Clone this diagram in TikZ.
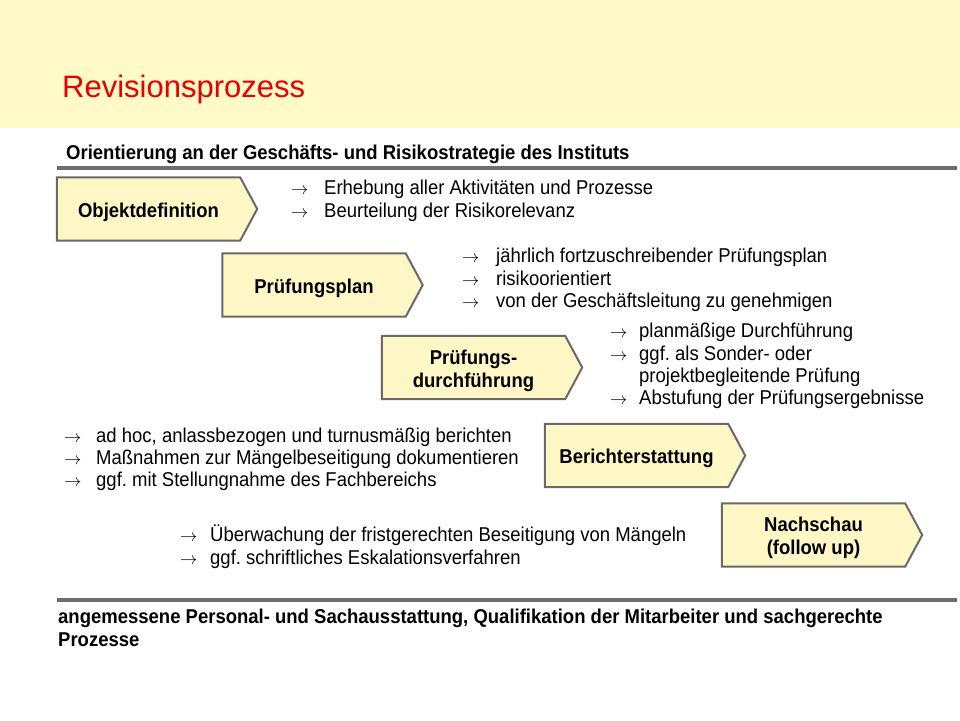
\documentclass[tikz,border=0pt]{standalone}
\usepackage{fontspec}
\setmainfont{Liberation Sans}[FakeStretch=0.925]
\newfontfamily\titlefont{Liberation Sans}
\usetikzlibrary{backgrounds,calc}
\frenchspacing
\definecolor{band}{RGB}{255,250,200}
\definecolor{boxfill}{RGB}{255,247,198}
\definecolor{boxline}{RGB}{105,105,105}
\definecolor{rulegray}{RGB}{110,110,110}
\definecolor{titlered}{RGB}{230,0,0}
\tikzset{
  chev/.style={rectangle, draw=none, minimum width=183pt, minimum height=63pt, inner sep=0pt, align=center, font=\fontsize{20}{23}\selectfont\bfseries},
  chevline/.style={draw=boxline, line width=2pt, fill=boxfill, line join=miter},
  bul/.style={anchor=base west, inner sep=0pt, align=left, font=\fontsize{20}{22}\selectfont},
  arr/.style={anchor=base west, inner sep=0pt, font=\fontsize{16}{22}\selectfont},
  rulebar/.style={draw=rulegray, line width=4pt},
  heading/.style={anchor=base west, inner sep=0pt, align=left, font=\fontsize{20}{23}\selectfont\bfseries},
}
% chevron drawn around node #1, whose text sits 3pt lower than the shape's centre
\newcommand\chevron[1]{\path[chevline] ($(#1.north west)+(0,-3)$) -- ($(#1.north east)+(0,-3)$) -- ($(#1.east)+(17,-3)$) -- ($(#1.south east)+(0,-3)$) -- ($(#1.south west)+(0,-3)$) -- cycle;}
\begin{document}
\begin{tikzpicture}[x=1pt,y=-1pt]
\useasboundingbox (0,0) rectangle (960,720);
\fill[band] (0,0) rectangle (960,128);
\node[anchor=base west, inner sep=0pt, text=titlered, font=\titlefont\fontsize{31}{36}\selectfont] (title) at (62,97) {Revisionsprozess};
\node[heading] (top) at (66,159) {Orientierung an der Geschäfts- und Risikostrategie des Instituts};
\coordinate (r1a) at (57,168); \coordinate (r1b) at (957,168);
\coordinate (r2a) at (57,600); \coordinate (r2b) at (957,600);
\draw[rulebar] (r1a) -- (r1b);
\draw[rulebar] (r2a) -- (r2b);

% boxes (node centre = shape centre + 3pt down)
\node[chev] (b1) at (148.5,212) {Objektdefinition};
\node[chev] (b2) at (314,288) {Prüfungsplan};
\node[chev] (b3) at (473.5,370.5) {Prüfungs-\\durchführung};
\node[chev] (b4) at (636.5,458.5) {Berichterstattung};
\node[chev] (b5) at (813.5,538) {Nachschau\\ (follow up)};
\begin{scope}[on background layer]
\chevron{b1}\chevron{b2}\chevron{b3}\chevron{b4}\chevron{b5}
\end{scope}

% group 1
\node[arr] (a11) at (291,194) {$\rightarrow$};
\node[bul] (t11) at (324,194) {Erhebung aller Aktivitäten und Prozesse};
\node[arr] (a12) at (291,217) {$\rightarrow$};
\node[bul] (t12) at (324,217) {Beurteilung der Risikorelevanz};
% group 2
\node[arr] (a21) at (462,262) {$\rightarrow$};
\node[bul] (t21) at (496,262) {jährlich fortzuschreibender Prüfungsplan};
\node[arr] (a22) at (462,285) {$\rightarrow$};
\node[bul] (t22) at (496,285) {risikoorientiert};
\node[arr] (a23) at (462,307) {$\rightarrow$};
\node[bul] (t23) at (496,307) {von der Geschäftsleitung zu genehmigen};
% group 3
\node[arr] (a31) at (610,337) {$\rightarrow$};
\node[bul] (t31) at (639,337) {planmäßige Durchführung};
\node[arr] (a32) at (610,360) {$\rightarrow$};
\node[bul] (t32) at (639,360) {ggf. als Sonder- oder};
\node[bul] (t33) at (639,382) {projektbegleitende Prüfung};
\node[arr] (a34) at (610,404) {$\rightarrow$};
\node[bul] (t34) at (639,404) {Abstufung der Prüfungsergebnisse};
% group 4
\node[arr] (a41) at (64,442) {$\rightarrow$};
\node[bul] (t41) at (96,442) {ad hoc, anlassbezogen und turnusmäßig berichten};
\node[arr] (a42) at (64,464) {$\rightarrow$};
\node[bul] (t42) at (96,464) {Maßnahmen zur Mängelbeseitigung dokumentieren};
\node[arr] (a43) at (64,486) {$\rightarrow$};
\node[bul] (t43) at (96,486) {ggf. mit Stellungnahme des Fachbereichs};
% group 5
\node[arr] (a51) at (180,541) {$\rightarrow$};
\node[bul] (t51) at (210,541) {Überwachung der fristgerechten Beseitigung von Mängeln};
\node[arr] (a52) at (180,564) {$\rightarrow$};
\node[bul] (t52) at (210,564) {ggf. schriftliches Eskalationsverfahren};

\node[heading] (bottom) at (58,623) {angemessene Personal- und Sachausstattung, Qualifikation der Mitarbeiter und sachgerechte};
\node[heading] (bottom2) at (58,646) {Prozesse};
\end{tikzpicture}
\end{document}
